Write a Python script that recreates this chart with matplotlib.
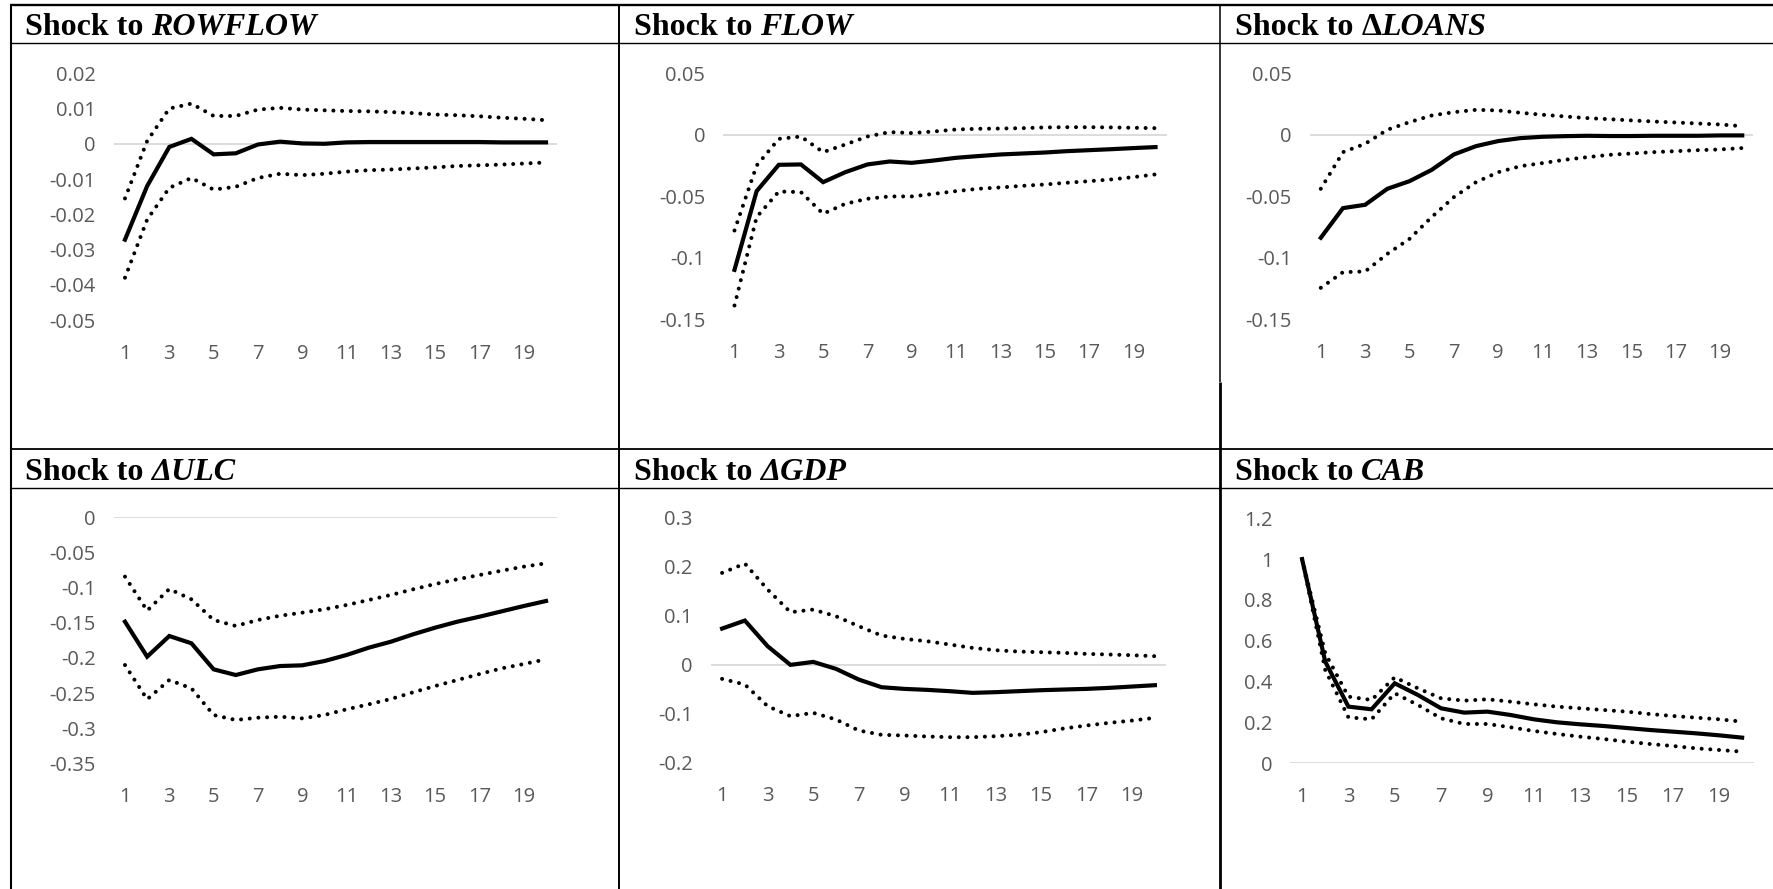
import matplotlib.pyplot as plt

# impulse responses, 20 periods: response, upper band, lower band
periods = list(range(1, 21))
xtick_vals = [1, 3, 5, 7, 9, 11, 13, 15, 17, 19]

rowflow_irf = [-0.0272, -0.0120, -0.0009, 0.0014, -0.0030, -0.0027, -0.0002, 0.0006, 0.0001, 0.0000,
               0.0004, 0.0005, 0.0005, 0.0005, 0.0005, 0.0005, 0.0005, 0.0004, 0.0004, 0.0004]
rowflow_hi = [-0.0155, 0.0008, 0.0100, 0.0114, 0.0079, 0.0079, 0.0097, 0.0102, 0.0097, 0.0095,
              0.0093, 0.0092, 0.0090, 0.0087, 0.0083, 0.0081, 0.0078, 0.0074, 0.0071, 0.0067]
rowflow_lo = [-0.0380, -0.0215, -0.0125, -0.0097, -0.0130, -0.0122, -0.0097, -0.0085, -0.0089, -0.0085,
              -0.0079, -0.0075, -0.0073, -0.0070, -0.0067, -0.0063, -0.0061, -0.0059, -0.0056, -0.0053]

flow_irf = [-0.1098, -0.0458, -0.0244, -0.0241, -0.0385, -0.0304, -0.0241, -0.0217, -0.0228, -0.0209,
            -0.0187, -0.0173, -0.0160, -0.0152, -0.0144, -0.0133, -0.0125, -0.0117, -0.0108, -0.0100]
flow_hi = [-0.0778, -0.0250, -0.0033, -0.0014, -0.0141, -0.0079, -0.0014, 0.0022, 0.0014, 0.0027,
           0.0043, 0.0049, 0.0051, 0.0054, 0.0060, 0.0062, 0.0062, 0.0060, 0.0057, 0.0054]
flow_lo = [-0.1388, -0.0669, -0.0461, -0.0466, -0.0642, -0.0561, -0.0520, -0.0501, -0.0501, -0.0480,
           -0.0458, -0.0439, -0.0428, -0.0415, -0.0404, -0.0390, -0.0377, -0.0363, -0.0344, -0.0322]

loans_irf = [-0.0837, -0.0596, -0.0569, -0.0439, -0.0377, -0.0285, -0.0160, -0.0092, -0.0051, -0.0027,
             -0.0016, -0.0011, -0.0008, -0.0010, -0.0010, -0.0008, -0.0008, -0.0008, -0.0005, -0.0005]
loans_hi = [-0.0439, -0.0141, -0.0073, 0.0041, 0.0103, 0.0157, 0.0184, 0.0203, 0.0198, 0.0179,
            0.0163, 0.0149, 0.0136, 0.0127, 0.0117, 0.0108, 0.0100, 0.0092, 0.0084, 0.0070]
loans_lo = [-0.1244, -0.1117, -0.1111, -0.0968, -0.0846, -0.0669, -0.0507, -0.0385, -0.0304, -0.0255,
            -0.0230, -0.0203, -0.0182, -0.0163, -0.0152, -0.0141, -0.0133, -0.0125, -0.0119, -0.0108]

ulc_irf = [-0.1485, -0.1983, -0.1689, -0.1793, -0.2163, -0.2244, -0.2163, -0.2116, -0.2106, -0.2045,
           -0.1959, -0.1855, -0.1770, -0.1665, -0.1570, -0.1485, -0.1414, -0.1338, -0.1262, -0.1191]
ulc_hi = [-0.0844, -0.1328, -0.1020, -0.1167, -0.1461, -0.1546, -0.1461, -0.1400, -0.1357, -0.1309,
          -0.1248, -0.1176, -0.1105, -0.1025, -0.0949, -0.0882, -0.0821, -0.0759, -0.0702, -0.0655]
ulc_lo = [-0.2102, -0.2590, -0.2315, -0.2434, -0.2813, -0.2884, -0.2851, -0.2837, -0.2861, -0.2813,
          -0.2732, -0.2661, -0.2585, -0.2490, -0.2400, -0.2315, -0.2230, -0.2149, -0.2087, -0.2021]

gdp_irf = [0.0733, 0.0896, 0.0373, -0.0007, 0.0054, -0.0088, -0.0306, -0.0462, -0.0496, -0.0516,
           -0.0543, -0.0577, -0.0563, -0.0543, -0.0523, -0.0509, -0.0496, -0.0475, -0.0448, -0.0421]
gdp_hi = [0.1867, 0.2057, 0.1528, 0.1066, 0.1120, 0.0984, 0.0781, 0.0591, 0.0523, 0.0475,
          0.0407, 0.0339, 0.0292, 0.0265, 0.0251, 0.0238, 0.0217, 0.0204, 0.0190, 0.0170]
gdp_lo = [-0.0292, -0.0407, -0.0849, -0.1052, -0.0984, -0.1120, -0.1344, -0.1432, -0.1446, -0.1466,
          -0.1480, -0.1480, -0.1460, -0.1432, -0.1378, -0.1303, -0.1242, -0.1188, -0.1141, -0.1086]

cab_irf = [1.0, 0.498, 0.2776, 0.2645, 0.3918, 0.3347, 0.2694, 0.2482, 0.2531, 0.2367,
           0.2155, 0.2008, 0.1910, 0.1829, 0.1731, 0.1633, 0.1551, 0.1469, 0.1371, 0.1257]
cab_hi = [1.0, 0.539, 0.3265, 0.3102, 0.4212, 0.3673, 0.3184, 0.3069, 0.3135, 0.3020,
          0.2890, 0.2776, 0.2694, 0.2612, 0.2531, 0.2416, 0.2318, 0.2237, 0.2155, 0.2041]
cab_lo = [1.0, 0.457, 0.2253, 0.2155, 0.3429, 0.2857, 0.2204, 0.1927, 0.1927, 0.1763,
          0.1584, 0.1437, 0.1306, 0.1192, 0.1061, 0.0947, 0.0849, 0.0735, 0.0653, 0.0571]

rowflow_yticks = [0.02, 0.01, 0, -0.01, -0.02, -0.03, -0.04, -0.05]
flow_yticks = [0.05, 0, -0.05, -0.1, -0.15]
ulc_yticks = [0, -0.05, -0.1, -0.15, -0.2, -0.25, -0.3, -0.35]
gdp_yticks = [0.3, 0.2, 0.1, 0, -0.1, -0.2]
cab_yticks = [1.2, 1, 0.8, 0.6, 0.4, 0.2, 0]

# title pieces: (text, italic)
panels = [
    ([('Shock to ', False), ('ROWFLOW', True)], rowflow_irf, rowflow_hi, rowflow_lo, rowflow_yticks),
    ([('Shock to ', False), ('FLOW', True)], flow_irf, flow_hi, flow_lo, flow_yticks),
    ([('Shock to ', False), ('\u0394', False), ('LOANS', True)], loans_irf, loans_hi, loans_lo, flow_yticks),
    ([('Shock to ', False), ('\u0394ULC', True)], ulc_irf, ulc_hi, ulc_lo, ulc_yticks),
    ([('Shock to ', False), ('\u0394GDP', True)], gdp_irf, gdp_hi, gdp_lo, gdp_yticks),
    ([('Shock to ', False), ('CAB', True)], cab_irf, cab_hi, cab_lo, cab_yticks),
]

# layout in pixels: plot left/right (x = 0.5 .. 20.5), y of top / bottom tick, title origin
W, H = 1774, 889
boxes = [
    (113.9, 557.1, 73.3, 320.0, 25, 35),
    (723.4, 1166.6, 73.3, 319.3, 634, 35),
    (1309.7, 1753.3, 73.3, 319.3, 1235, 35),
    (113.9, 557.1, 517.3, 763.3, 25, 480),
    (710.7, 1166.3, 517.3, 762.7, 634, 480),
    (1290.5, 1753.7, 518.3, 763.3, 1235, 480),
]

fig = plt.figure(figsize=(W / 100, H / 100), dpi=100)
over = fig.add_axes([0, 0, 1, 1])
over.set_xlim(0, W)
over.set_ylim(H, 0)
over.axis('off')

# table rules
over.plot([10, W], [5, 5], color='black', lw=1.7, solid_capstyle='butt')
over.plot([10, W], [42.7, 42.7], color='black', lw=1.0, solid_capstyle='butt')
over.plot([10, W], [448.8, 448.8], color='black', lw=1.3, solid_capstyle='butt')
over.plot([10, W], [487.7, 487.7], color='black', lw=1.0, solid_capstyle='butt')
over.plot([10.8, 10.8], [4, H], color='black', lw=1.5, solid_capstyle='butt')
over.plot([619, 619], [4, H], color='black', lw=1.4, solid_capstyle='butt')
over.plot([1219.7, 1219.7], [4, 382], color='black', lw=1.1, solid_capstyle='butt')
over.plot([1220.3, 1220.3], [382, H], color='black', lw=2.0, solid_capstyle='butt')

renderer = fig.canvas.get_renderer()

for (parts, irf, hi, lo, yt), (x0, x1, ytop, ybot, tx, ty) in zip(panels, boxes):
    # title made of bold upright / bold italic pieces
    x = tx
    for txt, italic in parts:
        t = over.text(x, ty, txt.rstrip(), fontsize=23, fontweight='bold',
                      fontstyle='italic' if italic else 'normal',
                      family='Liberation Serif', va='baseline', ha='left')
        x += t.get_window_extent(renderer).width
        if txt.endswith(' '):
            x += 8

    ax = fig.add_axes([x0 / W, 1 - ybot / H, (x1 - x0) / W, (ybot - ytop) / H])
    ax.set_xlim(0.5, 20.5)
    ax.set_ylim(min(yt), max(yt))
    ax.axhline(0, color='#D9D9D9', lw=1.3, zorder=1)
    ax.plot(periods, hi, color='black', lw=2.9, linestyle=(0, (0.01, 2.15)),
            dash_capstyle='round', zorder=3)
    ax.plot(periods, lo, color='black', lw=2.9, linestyle=(0, (0.01, 2.15)),
            dash_capstyle='round', zorder=3)
    ax.plot(periods, irf, color='black', lw=3.0, solid_joinstyle='miter', zorder=4)
    ax.set_xticks(xtick_vals)
    ax.set_xticklabels([str(v) for v in xtick_vals])
    ax.set_yticks(yt)
    ax.set_yticklabels(['%g' % v for v in yt])
    ax.tick_params(axis='both', length=0, colors='#595959', labelsize=14.5)
    ax.tick_params(axis='y', pad=13)
    ax.tick_params(axis='x', pad=17)
    for lab in ax.get_xticklabels() + ax.get_yticklabels():
        lab.set_family('Open Sans')
    for s in ax.spines.values():
        s.set_visible(False)
    ax.patch.set_alpha(0)

fig.savefig('out.png', dpi=100)
